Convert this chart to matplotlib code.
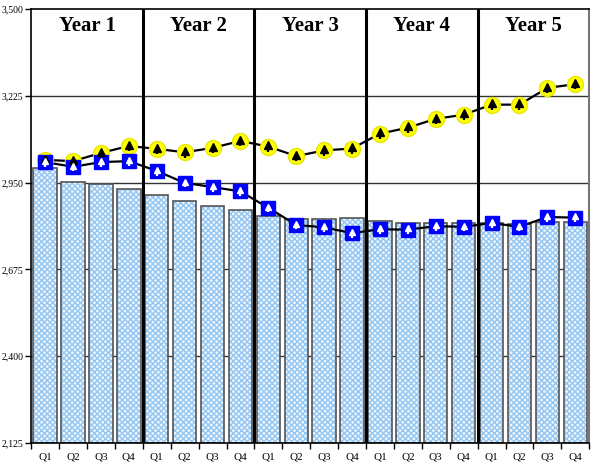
import matplotlib.pyplot as plt
import numpy as np
from matplotlib.ticker import FuncFormatter

years = ["Year 1", "Year 2", "Year 3", "Year 4", "Year 5"]
quarters = ["Q1", "Q2", "Q3", "Q4"]

# bar values, one per quarter
bars = [2997, 2951, 2946, 2930,
        2911, 2893, 2876, 2863,
        2844, 2835, 2835, 2838,
        2828, 2822, 2822, 2822,
        2822, 2819, 2825, 2825]

# yellow circle series
yellow = [3022, 3018, 3044, 3066,
          3057, 3046, 3060, 3082,
          3064, 3034, 3052, 3058,
          3105, 3124, 3152, 3165,
          3197, 3197, 3250, 3262]

# blue square series
blue = [3015, 3000, 3015, 3018,
        2987, 2949, 2936, 2922,
        2870, 2816, 2808, 2790,
        2802, 2801, 2812, 2810,
        2822, 2810, 2841, 2839]

plt.rcParams['font.family'] = ['Liberation Serif', 'DejaVu Serif']

fig = plt.figure(figsize=(6, 4.74), dpi=100)
ax = fig.add_axes([0.052, 0.0654, 0.930, 0.9156])

x = np.arange(len(bars))
ymin, ymax = 2125, 3500

# gridlines behind bars
for yv in [2400, 2675, 2950, 3225]:
    ax.axhline(yv, color='#333333', lw=1, zorder=0)

# checkered bars: hatch layer then outline layer
ax.bar(x, np.array(bars) - ymin, bottom=ymin, width=0.84, color='#eef6fe',
       hatch='xxxxxx', edgecolor='#94c6f2', linewidth=0, zorder=1)
ax.bar(x, np.array(bars) - ymin, bottom=ymin, width=0.84, fill=False,
       edgecolor='#555555', linewidth=1.2, zorder=2)

# year dividers
for i in range(1, len(years)):
    ax.axvline(i * 4 - 0.5, color='black', lw=2.2, zorder=3)

# yellow series
ax.plot(x, yellow, color='black', lw=1.6, zorder=4)
ax.plot(x, yellow, 'o', ms=11.5, mfc='#ffff00', mec='#e8e800', zorder=5)
ax.plot(x, np.array(yellow) + 4, '^', ms=6, mfc='black', mec='black', zorder=6)
ax.plot(x, np.array(yellow) - 7, '|', ms=4, mew=1.6, color='black', zorder=6)

# blue series
ax.plot(x, blue, color='black', lw=1.6, zorder=4)
ax.plot(x, blue, 's', ms=10, mfc='#0000ff', mec='#0000ff', zorder=5)
ax.plot(x, np.array(blue) + 4, '^', ms=5, mfc='white', mec='white', zorder=6)
ax.plot(x, np.array(blue) - 5, '|', ms=5, mew=1.6, color='white', zorder=6)

# year titles
for i, yr in enumerate(years):
    ax.text(i * 4 + 1.5, 3445, yr, ha='center', va='center', fontsize=15,
            fontweight='bold', zorder=7)

ax.set_xlim(-0.5, len(bars) - 0.5)
ax.set_ylim(ymin, ymax)
ax.set_yticks([2125, 2400, 2675, 2950, 3225, 3500])
ax.yaxis.set_major_formatter(FuncFormatter(lambda v, p: f"{int(v):,}"))
ax.set_xticks(x)
ax.set_xticklabels(quarters * len(years))
ax.set_xticks(np.arange(-0.5, len(bars), 1), minor=True)
ax.tick_params(axis='x', which='major', length=0, labelsize=8, pad=7)
ax.tick_params(axis='x', which='minor', length=4, width=1, direction='out')
ax.tick_params(axis='y', length=4, width=1, labelsize=7, pad=1.5)

for s in ['left', 'bottom', 'top']:
    ax.spines[s].set_color('black')
    ax.spines[s].set_linewidth(1.2)
ax.spines['right'].set_color('#777777')
ax.spines['right'].set_linewidth(1.5)

fig.savefig('out.png', dpi=100)
